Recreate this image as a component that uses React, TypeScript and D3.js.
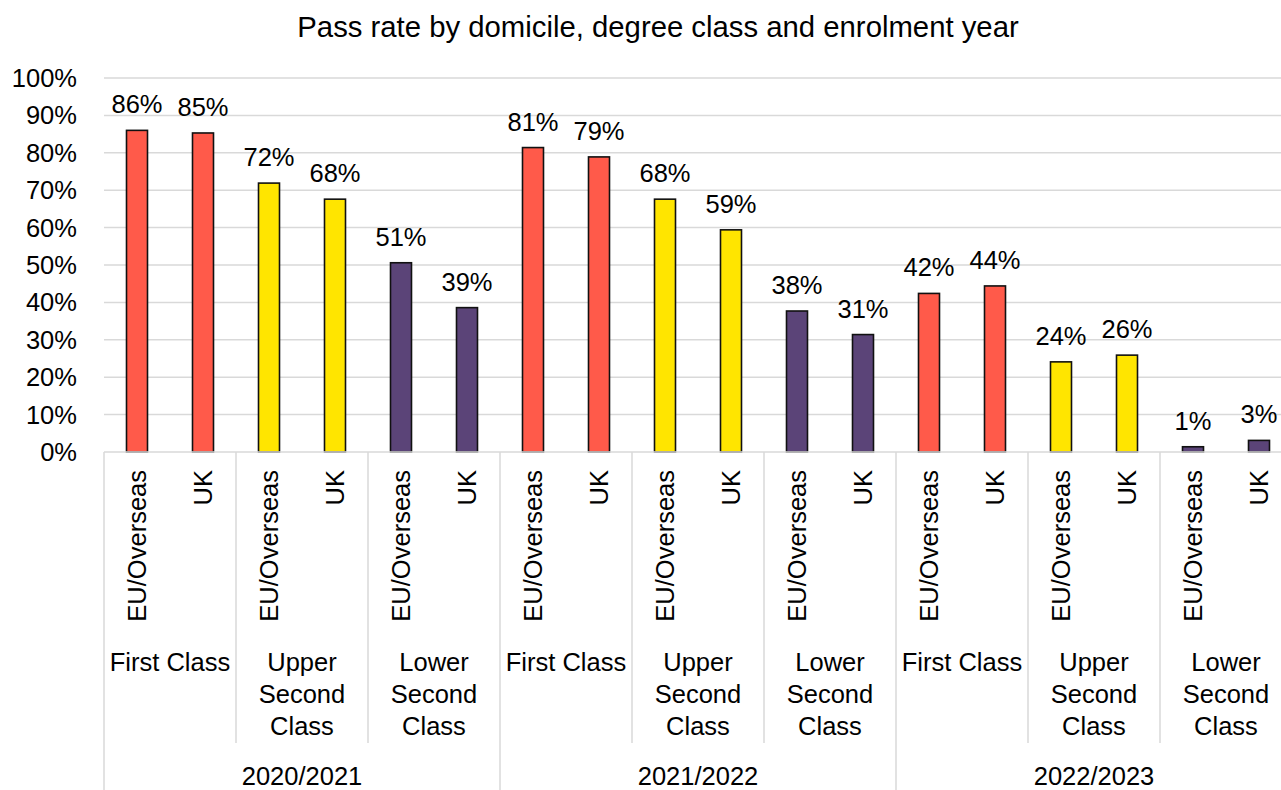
import React from "react";
import * as d3 from "d3";

const title = "Pass rate by domicile, degree class and enrolment year";
const years = ["2020/2021", "2021/2022", "2022/2023"];
const classes = ["First Class", "Upper Second Class", "Lower Second Class"];
const classLines = [["First Class"], ["Upper", "Second", "Class"], ["Lower", "Second", "Class"]];
const domiciles = ["EU/Overseas", "UK"];
const classColors = ["#FF5A4A", "#FFE500", "#5B4478"];
// order: year -> class -> domicile
const values = [
  86.0, 85.3, 71.9, 67.6, 50.6, 38.6,
  81.4, 78.9, 67.6, 59.4, 37.7, 31.4,
  42.4, 44.4, 24.1, 25.9, 1.4, 3.1,
];
const yTicks = [0, 10, 20, 30, 40, 50, 60, 70, 80, 90, 100];

const FONT = "'Liberation Sans', Arial, sans-serif";

export default function App() {
  const W = 1281;
  const H = 790;
  const left = 104;
  const slotW = 66;
  const nSlots = years.length * classes.length * domiciles.length;
  const right = left + nSlots * slotW;
  const y0 = 452;
  const yTop = 78;

  const rows = values.map((v, i) => {
    const yi = Math.floor(i / 6);
    const ci = Math.floor((i % 6) / 2);
    const di = i % 2;
    return { key: `${yi}-${ci}-${di}`, v, yi, ci, di, idx: i };
  });

  const x = d3.scaleBand<number>().domain(d3.range(nSlots)).range([left, right]).padding(0);
  const y = d3.scaleLinear().domain([0, 100]).range([y0, yTop]);
  const barW = 21;

  const groupBounds = d3.range(1, years.length * classes.length).filter((k) => k % classes.length !== 0);
  const yearBounds = d3.range(0, years.length + 1);

  return (
    <svg
      width={W}
      height={H}
      style={{ position: "absolute", left: 0, top: 0, background: "#fff" }}
      fontFamily={FONT}
    >
      <rect x={0} y={0} width={W} height={H} fill="#fff" />
      <text x={658} y={37} fontSize={29.3} textAnchor="middle" fill="#000">
        {title}
      </text>
      {yTicks.map((t) => (
        <g key={t}>
          {t > 0 && <line x1={left} x2={right} y1={y(t)} y2={y(t)} stroke="#D9D9D9" strokeWidth={1.5} />}
          <text x={77} y={y(t)} dy="0.35em" fontSize={25.5} textAnchor="end" fill="#000">
            {t}%
          </text>
        </g>
      ))}
      {rows.map((r) => {
        const cx = (x(r.idx) as number) + x.bandwidth() / 2;
        return (
          <g key={r.key}>
            <rect
              x={cx - barW / 2}
              y={y(r.v)}
              width={barW}
              height={y0 - y(r.v)}
              fill={classColors[r.ci]}
              stroke="#111"
              strokeWidth={1.6}
            />
            <text x={cx} y={y(r.v) - 17} fontSize={25.5} textAnchor="middle" fill="#000">
              {Math.round(r.v)}%
            </text>
            <g transform={`translate(${cx},470) rotate(-90)`}>
              <text x={0} y={0} dy="0.35em" fontSize={25.5} textAnchor="end" fill="#000">
                {domiciles[r.di]}
              </text>
            </g>
          </g>
        );
      })}
      <line x1={left} x2={right} y1={y0} y2={y0} stroke="#D9D9D9" strokeWidth={1.5} />
      {groupBounds.map((k) => (
        <line
          key={`g${k}`}
          x1={left + k * 2 * slotW}
          x2={left + k * 2 * slotW}
          y1={y0}
          y2={743}
          stroke="#D9D9D9"
          strokeWidth={1.5}
        />
      ))}
      {yearBounds.map((k) => (
        <line
          key={`y${k}`}
          x1={left + k * 6 * slotW}
          x2={left + k * 6 * slotW}
          y1={y0}
          y2={H}
          stroke="#D9D9D9"
          strokeWidth={1.5}
        />
      ))}
      {years.map((yr, yi) =>
        classes.map((c, ci) => {
          const gcx = left + (yi * 6 + ci * 2 + 1) * slotW;
          return (
            <text key={`${yr}-${c}`} x={gcx} y={671} fontSize={25.5} textAnchor="middle" fill="#000">
              {classLines[ci].map((ln, li) => (
                <tspan key={li} x={gcx} y={671 + li * 32}>
                  {ln}
                </tspan>
              ))}
            </text>
          );
        })
      )}
      {years.map((yr, yi) => (
        <text key={yr} x={left + (yi * 6 + 3) * slotW} y={785} fontSize={25.5} textAnchor="middle" fill="#000">
          {yr}
        </text>
      ))}
    </svg>
  );
}
